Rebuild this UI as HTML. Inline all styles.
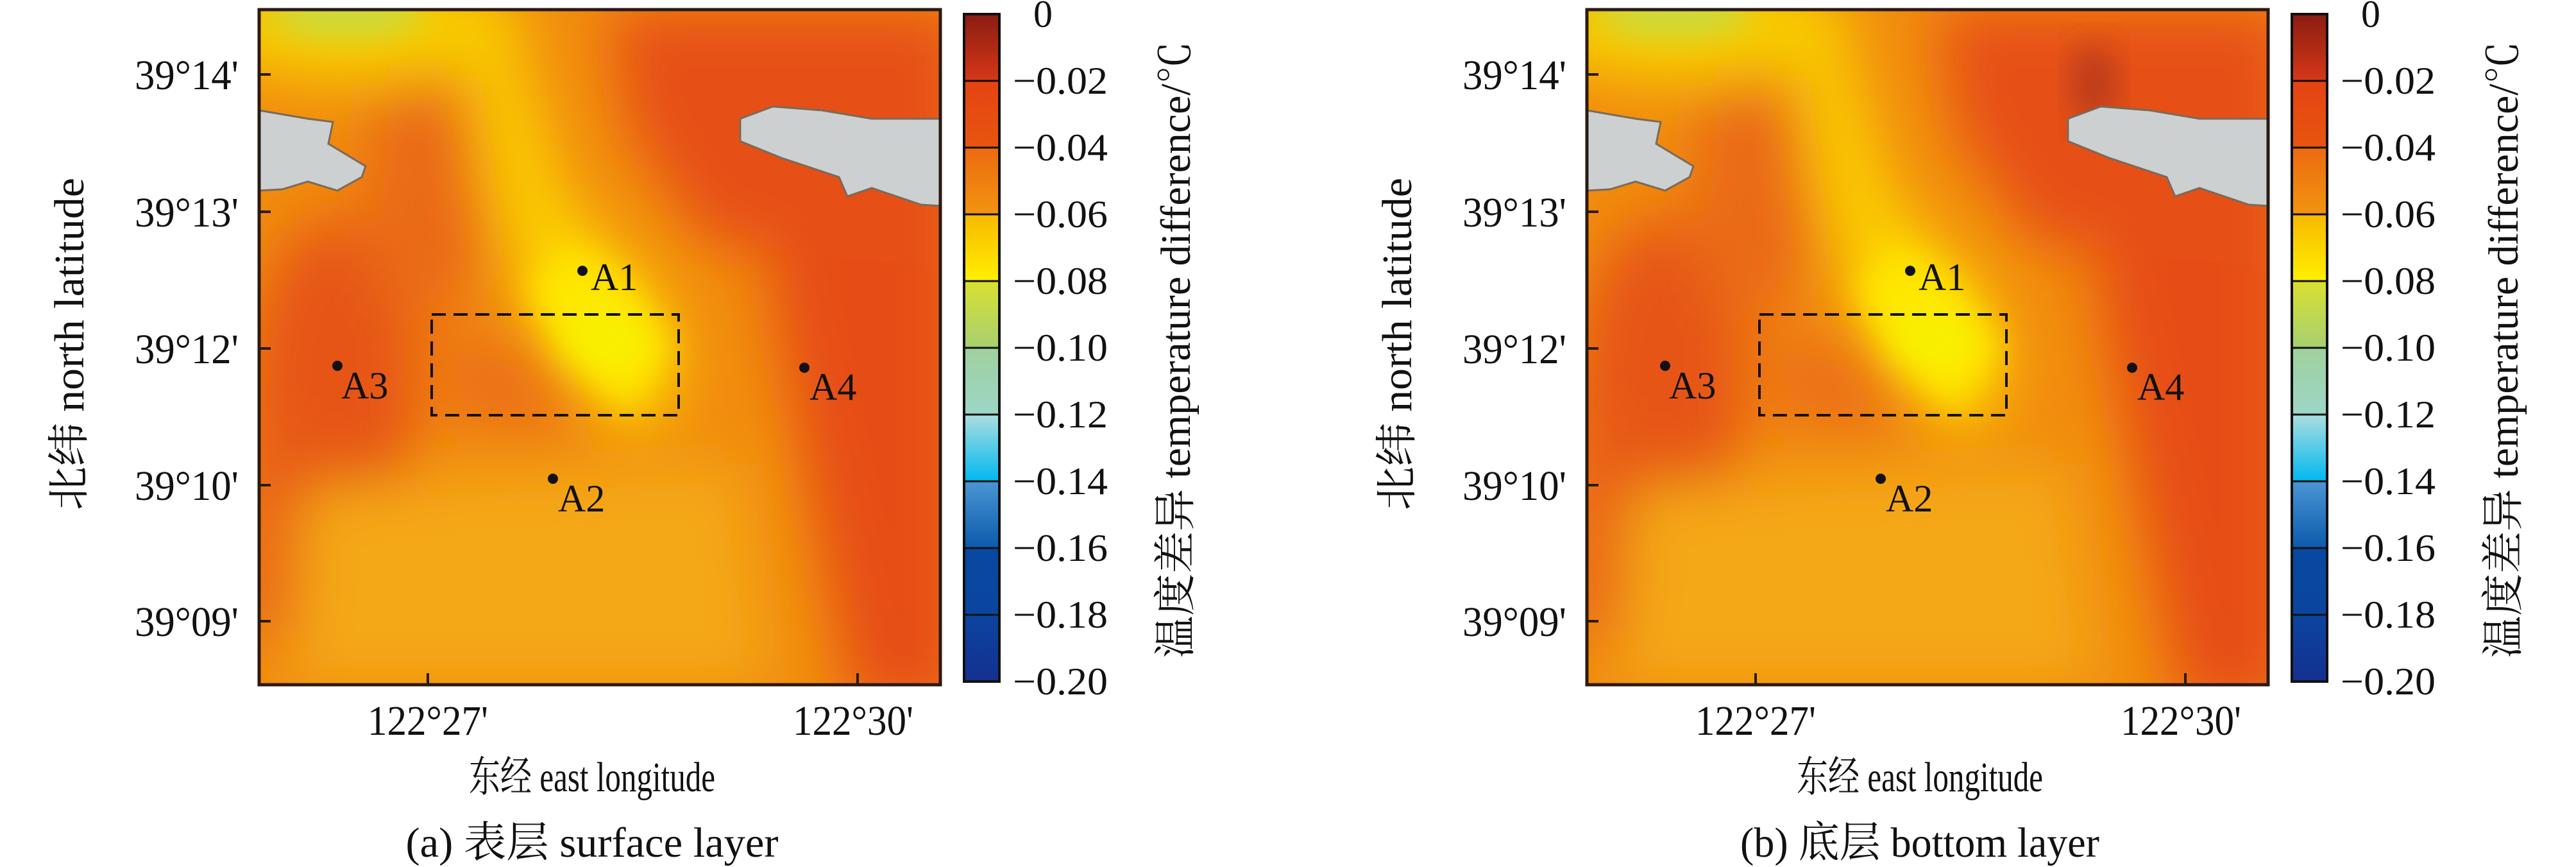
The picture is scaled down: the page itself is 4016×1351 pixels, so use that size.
<!DOCTYPE html>
<html><head><meta charset="utf-8"><style>html,body{margin:0;padding:0;background:#fff}svg{display:block}
.t{font-family:"Liberation Serif","Noto Serif CJK SC",serif;fill:#111}
</style></head>
<body>
<svg xmlns="http://www.w3.org/2000/svg" width="4016" height="1351" viewBox="0 0 4016 1351">
<defs>
<clipPath id="pc"><rect x="404" y="15" width="1062" height="1052"/></clipPath>
<filter id="bl" x="-30%" y="-30%" width="160%" height="160%"><feGaussianBlur stdDeviation="45"/></filter>
<filter id="bs" x="-30%" y="-30%" width="160%" height="160%"><feGaussianBlur stdDeviation="25"/></filter>
<linearGradient id="cb" x1="0" y1="0" x2="0" y2="1">
<stop offset="0" stop-color="#8a1c12"/><stop offset="0.1" stop-color="#d63818"/>
<stop offset="0.1" stop-color="#e44412"/><stop offset="0.2" stop-color="#e85510"/>
<stop offset="0.2" stop-color="#ec6a10"/><stop offset="0.3" stop-color="#f29410"/>
<stop offset="0.3" stop-color="#f8b800"/><stop offset="0.4" stop-color="#fff000"/>
<stop offset="0.4" stop-color="#dae030"/><stop offset="0.5" stop-color="#a6d070"/>
<stop offset="0.5" stop-color="#a0d09c"/><stop offset="0.6" stop-color="#9cd6c8"/>
<stop offset="0.6" stop-color="#acdede"/><stop offset="0.7" stop-color="#00b8f0"/>
<stop offset="0.7" stop-color="#4a96d4"/><stop offset="0.8" stop-color="#0c5aac"/>
<stop offset="0.8" stop-color="#0848a0"/><stop offset="0.9" stop-color="#0a46a0"/>
<stop offset="0.9" stop-color="#0c44a0"/><stop offset="1" stop-color="#143090"/>
</linearGradient>
<g id="heat">
<rect x="404" y="15" width="1062" height="1052" fill="#f18c0e"/>
<g filter="url(#bl)">
<polygon points="1230,15 1500,15 1500,1100 1330,1100 1250,700 1200,450" fill="#e64e14"/>
<polygon points="950,15 1500,15 1500,420 1100,380 980,200" fill="#e65014"/>
<ellipse cx="520" cy="600" rx="130" ry="260" fill="#e65416"/>
<rect x="380" y="650" width="120" height="350" fill="#e85a14"/>
<polygon points="580,120 720,120 760,420 640,520 560,400" fill="#ea6a12"/>
<polygon points="470,760 1150,720 1200,1067 450,1067" fill="#f4a812"/>
<polygon points="680,500 860,560 900,680 700,660" fill="#ec7012"/>
<polygon points="720,15 790,15 880,300 1040,470 1060,620 980,680 880,560 800,420 760,250" fill="#fbd000"/>
<ellipse cx="560" cy="40" rx="260" ry="90" fill="#f8cc00"/>
</g>
<g filter="url(#bs)">
<polygon points="880,380 960,420 1050,540 980,640 880,560 820,450" fill="#ffe600"/>
<ellipse cx="940" cy="530" rx="70" ry="50" fill="#f8f000"/>
<ellipse cx="540" cy="22" rx="120" ry="35" fill="#c8dc40"/>
</g>
</g>
</defs>

<!-- Panel A -->
<g clip-path="url(#pc)">
<use href="#heat"/>
<path d="M404,172 L480,185 L519,190 L512,224 L570,259 L564,276 L526,297 L480,283 L440,295 L404,297 Z" fill="#ccd0d0" stroke="#7a6a5a" stroke-width="3"/>
<path d="M1154,185 L1205,166 L1282,172 L1359,185 L1468,185 L1468,321 L1436,319 L1359,293 L1321,306 L1308,276 L1218,246 L1154,220 Z" fill="#ccd0d0" stroke="#7a6a5a" stroke-width="3"/>
</g>
<rect x="404" y="15" width="1062" height="1052" fill="none" stroke="#2a1a10" stroke-width="5"/>
<g stroke="#2a1a10" stroke-width="4">
<line x1="404" y1="116" x2="422" y2="116"/><line x1="404" y1="330" x2="422" y2="330"/><line x1="404" y1="543" x2="422" y2="543"/><line x1="404" y1="756" x2="422" y2="756"/><line x1="404" y1="968" x2="422" y2="968"/>
<line x1="667" y1="1067" x2="667" y2="1049"/><line x1="1337" y1="1067" x2="1337" y2="1049"/>
</g>
<rect x="673" y="490" width="385" height="157" fill="none" stroke="#111" stroke-width="4" stroke-dasharray="22,12"/>
<g fill="#111"><circle cx="908" cy="422" r="8"/><circle cx="862" cy="746" r="8"/><circle cx="526" cy="570" r="8"/><circle cx="1254" cy="573" r="8"/></g>
<g class="t" font-size="60">
<text x="921" y="452">A1</text><text x="870" y="797">A2</text><text x="532" y="621">A3</text><text x="1262" y="623">A4</text>
</g>
<g class="t" font-size="66" text-anchor="end">
<text x="372" y="139" textLength="162" lengthAdjust="spacingAndGlyphs">39°14'</text>
<text x="372" y="353" textLength="162" lengthAdjust="spacingAndGlyphs">39°13'</text>
<text x="372" y="566" textLength="162" lengthAdjust="spacingAndGlyphs">39°12'</text>
<text x="372" y="779" textLength="162" lengthAdjust="spacingAndGlyphs">39°10'</text>
<text x="372" y="991" textLength="162" lengthAdjust="spacingAndGlyphs">39°09'</text>
</g>
<g class="t" font-size="66" text-anchor="middle">
<text x="667" y="1145" textLength="188" lengthAdjust="spacingAndGlyphs">122°27'</text>
<text x="1330" y="1145" textLength="188" lengthAdjust="spacingAndGlyphs">122°30'</text>
<text x="923" y="1233" textLength="384" lengthAdjust="spacingAndGlyphs">东经 east longitude</text>
<text x="923" y="1335" textLength="581" lengthAdjust="spacingAndGlyphs">(a) 表层 surface layer</text>
<text transform="translate(130,536) rotate(-90)" textLength="518" lengthAdjust="spacingAndGlyphs">北纬 north latitude</text>
<text transform="translate(1855,545) rotate(-90)" textLength="961" lengthAdjust="spacingAndGlyphs">温度差异 temperature difference/℃</text>
</g>
<rect x="1503" y="22" width="55" height="1040" fill="url(#cb)" stroke="#111" stroke-width="4"/>
<g stroke="#111" stroke-width="3"><line x1="1503" y1="126" x2="1558" y2="126"/><line x1="1503" y1="230" x2="1558" y2="230"/><line x1="1503" y1="334" x2="1558" y2="334"/><line x1="1503" y1="438" x2="1558" y2="438"/><line x1="1503" y1="542" x2="1558" y2="542"/><line x1="1503" y1="646" x2="1558" y2="646"/><line x1="1503" y1="750" x2="1558" y2="750"/><line x1="1503" y1="854" x2="1558" y2="854"/><line x1="1503" y1="958" x2="1558" y2="958"/></g>
<g class="t" font-size="60">
<text x="1611" y="42">0</text>
<text x="1579" y="146" textLength="148" lengthAdjust="spacingAndGlyphs">−0.02</text><text x="1579" y="250" textLength="148" lengthAdjust="spacingAndGlyphs">−0.04</text><text x="1579" y="354" textLength="148" lengthAdjust="spacingAndGlyphs">−0.06</text><text x="1579" y="458" textLength="148" lengthAdjust="spacingAndGlyphs">−0.08</text><text x="1579" y="562" textLength="148" lengthAdjust="spacingAndGlyphs">−0.10</text><text x="1579" y="666" textLength="148" lengthAdjust="spacingAndGlyphs">−0.12</text><text x="1579" y="770" textLength="148" lengthAdjust="spacingAndGlyphs">−0.14</text><text x="1579" y="874" textLength="148" lengthAdjust="spacingAndGlyphs">−0.16</text><text x="1579" y="978" textLength="148" lengthAdjust="spacingAndGlyphs">−0.18</text><text x="1579" y="1082" textLength="148" lengthAdjust="spacingAndGlyphs">−0.20</text>
</g>

<!-- Panel B -->
<g transform="translate(2070,0)">
<g clip-path="url(#pc)">
<use href="#heat"/>
<ellipse cx="1195" cy="130" rx="35" ry="60" fill="#b83a1a" filter="url(#bs)"/>
<path d="M404,172 L480,185 L519,190 L512,224 L570,259 L564,276 L526,297 L480,283 L440,295 L404,297 Z" fill="#ccd0d0" stroke="#7a6a5a" stroke-width="3"/>
<path d="M1154,185 L1205,166 L1282,172 L1359,185 L1468,185 L1468,321 L1436,319 L1359,293 L1321,306 L1308,276 L1218,246 L1154,220 Z" fill="#ccd0d0" stroke="#7a6a5a" stroke-width="3"/>
</g>
<rect x="404" y="15" width="1062" height="1052" fill="none" stroke="#2a1a10" stroke-width="5"/>
<g stroke="#2a1a10" stroke-width="4">
<line x1="404" y1="116" x2="422" y2="116"/><line x1="404" y1="330" x2="422" y2="330"/><line x1="404" y1="543" x2="422" y2="543"/><line x1="404" y1="756" x2="422" y2="756"/><line x1="404" y1="968" x2="422" y2="968"/>
<line x1="667" y1="1067" x2="667" y2="1049"/><line x1="1337" y1="1067" x2="1337" y2="1049"/>
</g>
<rect x="673" y="490" width="385" height="157" fill="none" stroke="#111" stroke-width="4" stroke-dasharray="22,12"/>
<g fill="#111"><circle cx="908" cy="422" r="8"/><circle cx="862" cy="746" r="8"/><circle cx="526" cy="570" r="8"/><circle cx="1254" cy="573" r="8"/></g>
<g class="t" font-size="60">
<text x="921" y="452">A1</text><text x="870" y="797">A2</text><text x="532" y="621">A3</text><text x="1262" y="623">A4</text>
</g>
<g class="t" font-size="66" text-anchor="end">
<text x="372" y="139" textLength="162" lengthAdjust="spacingAndGlyphs">39°14'</text>
<text x="372" y="353" textLength="162" lengthAdjust="spacingAndGlyphs">39°13'</text>
<text x="372" y="566" textLength="162" lengthAdjust="spacingAndGlyphs">39°12'</text>
<text x="372" y="779" textLength="162" lengthAdjust="spacingAndGlyphs">39°10'</text>
<text x="372" y="991" textLength="162" lengthAdjust="spacingAndGlyphs">39°09'</text>
</g>
<g class="t" font-size="66" text-anchor="middle">
<text x="667" y="1145" textLength="188" lengthAdjust="spacingAndGlyphs">122°27'</text>
<text x="1330" y="1145" textLength="188" lengthAdjust="spacingAndGlyphs">122°30'</text>
<text x="923" y="1233" textLength="384" lengthAdjust="spacingAndGlyphs">东经 east longitude</text>
<text x="923" y="1335" textLength="560" lengthAdjust="spacingAndGlyphs">(b) 底层 bottom layer</text>
<text transform="translate(130,536) rotate(-90)" textLength="518" lengthAdjust="spacingAndGlyphs">北纬 north latitude</text>
<text transform="translate(1855,545) rotate(-90)" textLength="961" lengthAdjust="spacingAndGlyphs">温度差异 temperature difference/℃</text>
</g>
<rect x="1503" y="22" width="55" height="1040" fill="url(#cb)" stroke="#111" stroke-width="4"/>
<g stroke="#111" stroke-width="3"><line x1="1503" y1="126" x2="1558" y2="126"/><line x1="1503" y1="230" x2="1558" y2="230"/><line x1="1503" y1="334" x2="1558" y2="334"/><line x1="1503" y1="438" x2="1558" y2="438"/><line x1="1503" y1="542" x2="1558" y2="542"/><line x1="1503" y1="646" x2="1558" y2="646"/><line x1="1503" y1="750" x2="1558" y2="750"/><line x1="1503" y1="854" x2="1558" y2="854"/><line x1="1503" y1="958" x2="1558" y2="958"/></g>
<g class="t" font-size="60">
<text x="1611" y="42">0</text>
<text x="1579" y="146" textLength="148" lengthAdjust="spacingAndGlyphs">−0.02</text><text x="1579" y="250" textLength="148" lengthAdjust="spacingAndGlyphs">−0.04</text><text x="1579" y="354" textLength="148" lengthAdjust="spacingAndGlyphs">−0.06</text><text x="1579" y="458" textLength="148" lengthAdjust="spacingAndGlyphs">−0.08</text><text x="1579" y="562" textLength="148" lengthAdjust="spacingAndGlyphs">−0.10</text><text x="1579" y="666" textLength="148" lengthAdjust="spacingAndGlyphs">−0.12</text><text x="1579" y="770" textLength="148" lengthAdjust="spacingAndGlyphs">−0.14</text><text x="1579" y="874" textLength="148" lengthAdjust="spacingAndGlyphs">−0.16</text><text x="1579" y="978" textLength="148" lengthAdjust="spacingAndGlyphs">−0.18</text><text x="1579" y="1082" textLength="148" lengthAdjust="spacingAndGlyphs">−0.20</text>
</g>
</g>
</svg>
</body></html>
